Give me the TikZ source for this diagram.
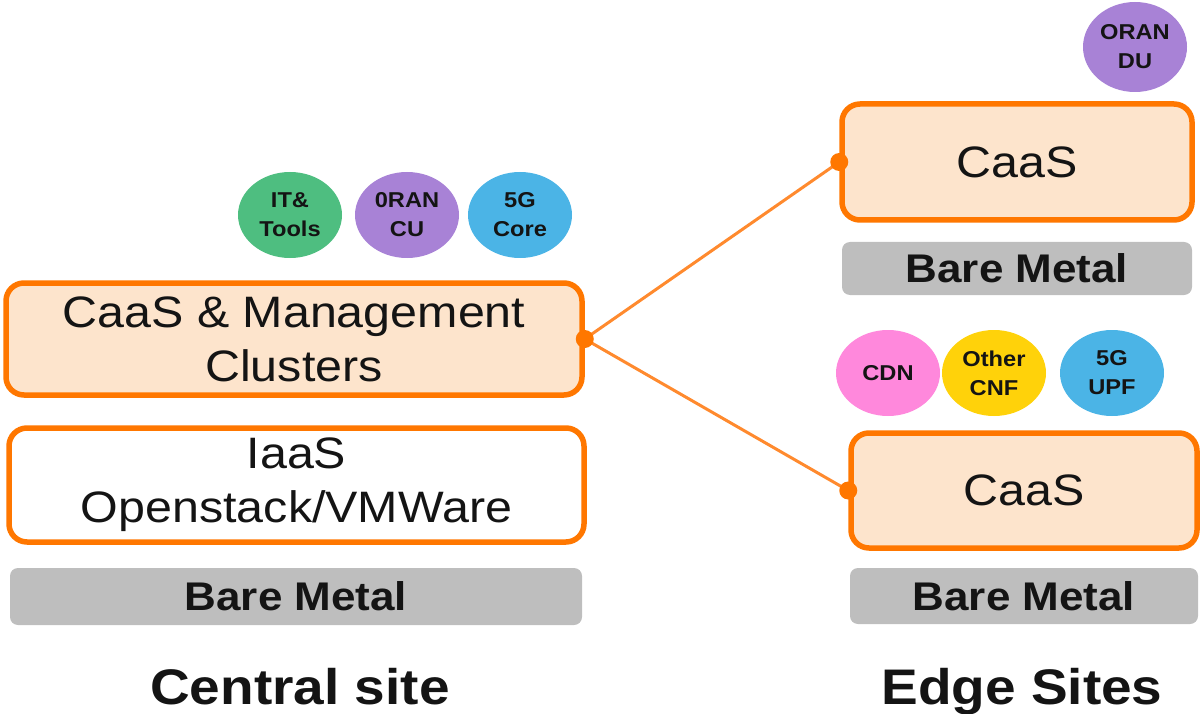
\documentclass[tikz,border=0pt]{standalone}
\usepackage{fontspec}
\setmainfont{Liberation Sans}[FakeStretch=1.1]
\usetikzlibrary{shapes.geometric}

\definecolor{boxorange}{RGB}{255,119,0}
\definecolor{linkorange}{RGB}{255,138,46}
\definecolor{peach}{RGB}{253,228,204}
\definecolor{metalgray}{RGB}{190,190,190}
\definecolor{itgreen}{RGB}{78,190,128}
\definecolor{oranpurple}{RGB}{168,130,214}
\definecolor{coreblue}{RGB}{75,180,230}
\definecolor{cdnpink}{RGB}{255,136,220}
\definecolor{cnfyellow}{RGB}{255,210,10}
\definecolor{inktext}{RGB}{20,20,20}

\tikzset{
  layerbox/.style={draw=boxorange, line width=5.5pt, rounded corners=18pt,
    rectangle, inner sep=0pt, align=center, text=inktext,
    font=\fontsize{44}{54}\selectfont},
  caasbox/.style={layerbox, fill=peach},
  iaasbox/.style={layerbox, fill=white},
  metalbox/.style={fill=metalgray, rounded corners=8pt, rectangle, inner sep=0pt,
    text=inktext, font=\bfseries\fontsize{40}{48}\selectfont},
  workload/.style={ellipse, inner sep=0pt, minimum width=104pt, minimum height=86pt,
    align=center, text=inktext, font=\bfseries\fontsize{21.5}{29}\selectfont},
  sitelabel/.style={text=inktext, inner sep=0pt, font=\bfseries\fontsize{50}{60}\selectfont},
  link/.style={draw=linkorange, line width=3pt},
  joint/.style={circle, fill=boxorange, inner sep=0pt, minimum size=18pt}
}

\begin{document}
\begin{tikzpicture}[x=1pt, y=-1pt]
  \useasboundingbox (0,0) rectangle (1202,714);

  % central site stack
  \node[caasbox, minimum width=576pt, minimum height=112pt] (ccaas) at (294,339)
    {CaaS \& Management\\Clusters};
  \node[iaasbox, minimum width=575pt, minimum height=114pt] (iaas) at (296.5,485)
    {IaaS\\Openstack/VMWare};
  \node[metalbox, minimum width=572pt, minimum height=57pt] (cmetal) at (296,596.5)
    {Bare Metal};
  \node[sitelabel, anchor=base] (central) at (300,704) {Central site};

  % workloads on the central site
  \node[workload, fill=itgreen] (ittools) at (290,215) {IT\&\\Tools};
  \node[workload, fill=oranpurple] (orancu) at (407,215) {0RAN\\CU};
  \node[workload, fill=coreblue] (core) at (520,215) {5G\\Core};

  % first edge site
  \node[caasbox, minimum width=350pt, minimum height=116pt] (tcaas) at (1017,162) {CaaS};
  \node[metalbox, minimum width=350pt, minimum height=53pt] (tmetal) at (1017,268.5)
    {Bare Metal};
  \node[workload, fill=oranpurple, minimum height=90pt] (orandu) at (1135,47) {ORAN\\DU};

  % second edge site
  \node[caasbox, minimum width=346pt, minimum height=115pt] (bcaas) at (1024,490.5) {CaaS};
  \node[metalbox, minimum width=348pt, minimum height=56pt] (bmetal) at (1024,596)
    {Bare Metal};
  \node[workload, fill=cdnpink] (cdn) at (888,373) {CDN};
  \node[workload, fill=cnfyellow] (cnf) at (994,373) {Other\\CNF};
  \node[workload, fill=coreblue] (upf) at (1112,373) {5G\\UPF};

  \node[sitelabel, anchor=base] (edge) at (1022,704) {Edge Sites};

  % management links from the central clusters to the edge sites
  \draw[link] (ccaas.east) -- (tcaas.west);
  \draw[link] (ccaas.east) -- (bcaas.west);
  \node[joint] (jc) at (ccaas.east) {};
  \node[joint] (jt) at (tcaas.west) {};
  \node[joint] (jb) at (bcaas.west) {};
\end{tikzpicture}
\end{document}
